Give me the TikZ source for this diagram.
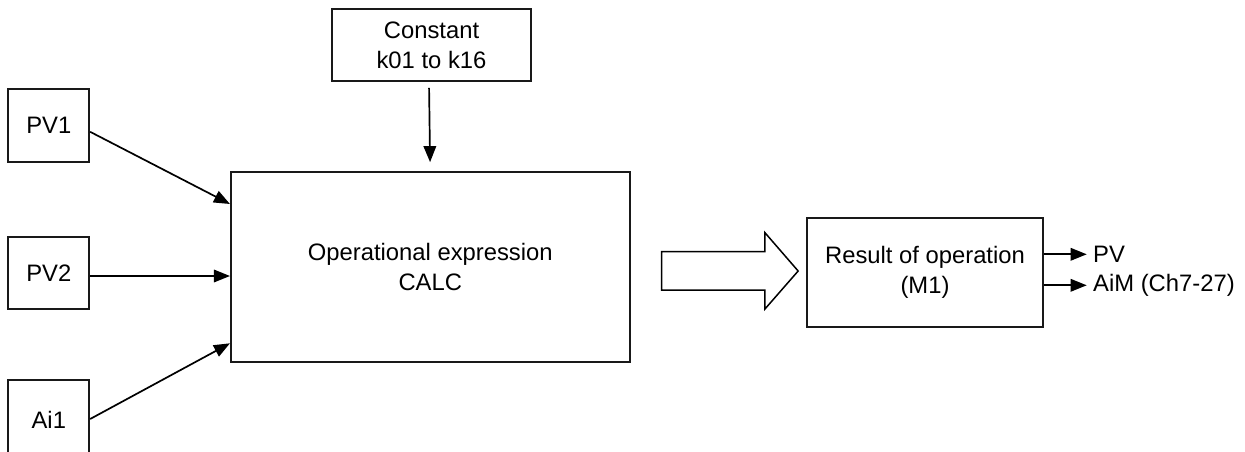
\documentclass[tikz,border=0pt]{standalone}
\usepackage{fontspec}
\setmainfont{Liberation Sans}
\usetikzlibrary{arrows.meta,calc}
\begin{document}
\begin{tikzpicture}[x=1pt,y=-1pt,
  box/.style={draw=black!90,line width=1.7pt,inner sep=0pt,align=center,font=\fontsize{23.8pt}{30pt}\selectfont},
  conn/.style={line width=1.7pt,-{Triangle[length=16pt,width=12.5pt]}},
  lbl/.style={inner sep=0pt,anchor=west,font=\fontsize{23.8pt}{30pt}\selectfont}]
\useasboundingbox (0,0) rectangle (1245,452);
\clip (0,0) rectangle (1245,452);
\node[box,minimum width=199pt,minimum height=72pt] (const) at (431.5,45) {Constant\\k01 to k16};
\node[box,minimum width=81pt,minimum height=73pt] (pv1) at (48.8,125.8) {PV1};
\node[box,minimum width=81pt,minimum height=72pt] (pv2) at (48.8,272.7) {PV2};
\node[box,minimum width=81pt,minimum height=80pt] (ai1) at (48.8,420) {Ai1};
\node[box,minimum width=399pt,minimum height=190.6pt] (main) at (430.3,267) {Operational expression\\CALC};
\node[box,minimum width=236.6pt,minimum height=108.4pt] (res) at (925,272.5) {Result of operation\\(M1)};
% inputs
\draw[conn] ([yshift=-6pt]pv1.east) -- ([yshift=63pt]main.west);
\draw[conn] ([yshift=-3.3pt]pv2.east) -- ([yshift=-9pt]main.west);
\draw[conn] ([yshift=1pt]ai1.east) -- ([yshift=-76.3pt]main.west);
\draw[conn,shorten <=6pt,shorten >=8.7pt] ([xshift=-2.5pt]const.south) -- ([xshift=-2.5pt+1.2pt]const.south |- main.north);
% block arrow
\draw[line width=1.5pt,line join=miter]
  ($(main.east)+(31,-15.3)$) -- ++(103.3,0) -- ++(0,-19) -- ($(res.west)+(-7.7,-1.5)$)
  -- ($(main.east)+(134.3,42)$) -- ++(0,-19) -- ($(main.east)+(31,23)$) -- cycle;
% outputs
\coordinate (pvend) at (1086.7,254.3);
\coordinate (aimend) at (1086.7,285.3);
\draw[conn] (res.east |- pvend) -- (pvend);
\draw[conn] (res.east |- aimend) -- (aimend);
\node[lbl] (pvt) at (1093,254.3) {PV};
\node[lbl] (aimt) at (1093,285.3) {AiM (Ch7-27)};
\end{tikzpicture}
\end{document}
